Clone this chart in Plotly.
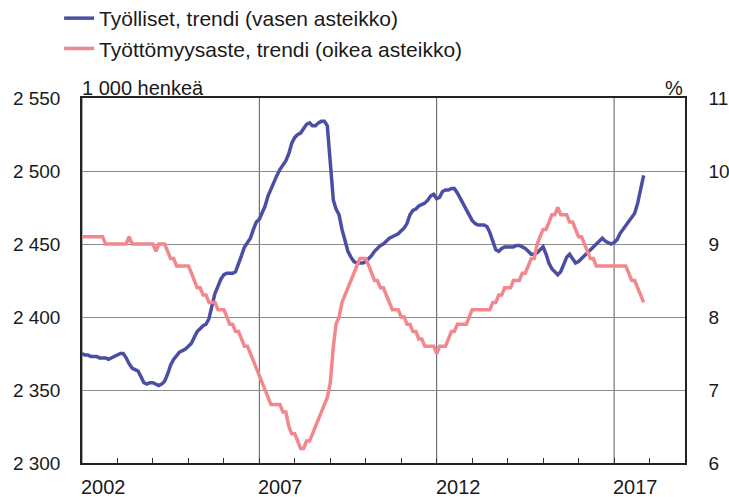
import pandas as pd
import plotly.graph_objects as go

# kuukausittaiset trendit 2002-01 ... 2017-11
kuukaudet = pd.date_range("2002-01-01", "2017-11-01", freq="MS")

# Työlliset, trendi (1 000 henkeä), vasen asteikko
tyolliset = [
    2375, 2374, 2374, 2373, 2373, 2373, 2372, 2372, 2372, 2371, 2372, 2373,  # 2002
    2374, 2375, 2375, 2372, 2368, 2365, 2364, 2363, 2359, 2355, 2354, 2355,  # 2003
    2355, 2354, 2353, 2354, 2356, 2361, 2367, 2371, 2374, 2376, 2377, 2378,  # 2004
    2380, 2382, 2386, 2390, 2392, 2394, 2395, 2399, 2408, 2416, 2421, 2426,  # 2005
    2429, 2430, 2430, 2430, 2431, 2436, 2442, 2448, 2451, 2454, 2460, 2465,  # 2006
    2467, 2472, 2476, 2483, 2488, 2493, 2497, 2501, 2504, 2507, 2512, 2519,  # 2007
    2523, 2525, 2526, 2529, 2532, 2533, 2531, 2531, 2533, 2534, 2534, 2531,  # 2008
    2508, 2480, 2474, 2470, 2460, 2452, 2445, 2441, 2438, 2437, 2437, 2437,  # 2009
    2438, 2440, 2442, 2445, 2447, 2449, 2450, 2452, 2454, 2455, 2456, 2457,  # 2010
    2459, 2461, 2464, 2470, 2473, 2474, 2476, 2477, 2478, 2480, 2483, 2484,  # 2011
    2481, 2482, 2486, 2487, 2487, 2488, 2488, 2485, 2481, 2477, 2473, 2470,  # 2012
    2466, 2464, 2463, 2463, 2463, 2462, 2458, 2452, 2446, 2445, 2447, 2448,  # 2013
    2448, 2448, 2448, 2449, 2449, 2448, 2447, 2445, 2443, 2443, 2444, 2446,  # 2014
    2448, 2443, 2437, 2433, 2431, 2429, 2431, 2436, 2441, 2443, 2440, 2437,  # 2015
    2438, 2440, 2442, 2444, 2446, 2448, 2450, 2452, 2454, 2452, 2451, 2450,  # 2016
    2451, 2453, 2457, 2460, 2463, 2465, 2468, 2471, 2478, 2488, 2497,        # 2017
]

# Työttömyysaste, trendi (%), oikea asteikko
tyottomyysaste = [
    9.1, 9.1, 9.1, 9.1, 9.1, 9.1, 9.1, 9.1, 9.0, 9.0, 9.0, 9.0,  # 2002
    9.0, 9.0, 9.0, 9.0, 9.1, 9.0, 9.0, 9.0, 9.0, 9.0, 9.0, 9.0,  # 2003
    9.0, 8.9, 9.0, 9.0, 9.0, 8.9, 8.8, 8.8, 8.7, 8.7, 8.7, 8.7,  # 2004
    8.7, 8.6, 8.5, 8.4, 8.4, 8.3, 8.3, 8.2, 8.2, 8.2, 8.1, 8.1,  # 2005
    8.1, 8.0, 7.9, 7.9, 7.8, 7.8, 7.7, 7.6, 7.6, 7.5, 7.4, 7.3,  # 2006
    7.2, 7.1, 7.0, 6.9, 6.8, 6.8, 6.8, 6.8, 6.7, 6.7, 6.5, 6.4,  # 2007
    6.4, 6.3, 6.2, 6.2, 6.3, 6.3, 6.4, 6.5, 6.6, 6.7, 6.8, 6.9,  # 2008
    7.1, 7.6, 7.9, 8.0, 8.2, 8.3, 8.4, 8.5, 8.6, 8.7, 8.8, 8.8,  # 2009
    8.8, 8.7, 8.6, 8.5, 8.5, 8.4, 8.4, 8.3, 8.2, 8.1, 8.1, 8.1,  # 2010
    8.0, 8.0, 7.9, 7.9, 7.8, 7.8, 7.7, 7.7, 7.6, 7.6, 7.6, 7.6,  # 2011
    7.5, 7.6, 7.6, 7.6, 7.7, 7.8, 7.8, 7.9, 7.9, 7.9, 7.9, 8.0,  # 2012
    8.1, 8.1, 8.1, 8.1, 8.1, 8.1, 8.1, 8.2, 8.2, 8.3, 8.3, 8.4,  # 2013
    8.4, 8.4, 8.5, 8.5, 8.5, 8.6, 8.6, 8.7, 8.8, 8.8, 9.0, 9.1,  # 2014
    9.2, 9.2, 9.3, 9.4, 9.4, 9.5, 9.4, 9.4, 9.4, 9.3, 9.3, 9.2,  # 2015
    9.1, 9.1, 9.0, 8.9, 8.8, 8.8, 8.7, 8.7, 8.7, 8.7, 8.7, 8.7,  # 2016
    8.7, 8.7, 8.7, 8.7, 8.7, 8.6, 8.5, 8.5, 8.4, 8.3, 8.2,       # 2017
]

vuosi_tekstit = ["2002", "2007", "2012", "2017"]
vuosi_tikit = pd.date_range("2002-01-01", "2019-01-01", freq="YS")

FONT = "Liberation Sans, Arial, sans-serif"
TEXT = "#1a1a1a"
SININEN = "#4a4fa4"
PUNAINEN = "#f2888d"

fig = go.Figure()
fig.add_trace(go.Scatter(
    x=kuukaudet, y=tyolliset,
    mode="lines",
    name="Työlliset, trendi (vasen asteikko)",
    line=dict(color=SININEN, width=3.5),
    legendgroup="a",
))
fig.add_trace(go.Scatter(
    x=kuukaudet, y=tyottomyysaste,
    mode="lines",
    name="Työttömyysaste, trendi (oikea asteikko)",
    line=dict(color=PUNAINEN, width=3.5),
    yaxis="y2",
    legendgroup="b",
))

fig.update_layout(
    width=729, height=497,
    margin=dict(l=82, r=44, t=98, b=34, autoexpand=False),
    paper_bgcolor="white",
    plot_bgcolor="white",
    separators=", ",
    font=dict(family=FONT, size=19, color=TEXT),
    showlegend=True,
    legend=dict(
        x=-0.038, y=1.274, xanchor="left", yanchor="top",
        bgcolor="rgba(0,0,0,0)",
        font=dict(size=21),
        tracegroupgap=0,
        traceorder="grouped",
    ),
    xaxis=dict(
        type="date",
        range=["2002-01-01", "2019-01-01"],
        tickvals=vuosi_tikit,
        ticktext=[""] * len(vuosi_tikit),
        ticks="inside", ticklen=5, tickcolor="#333",
        showgrid=False,
        showline=True, linecolor="#222", linewidth=1.5, mirror=True,
        zeroline=False, automargin=False,
    ),
    yaxis=dict(
        range=[2300, 2550], dtick=50, tickformat=",d",
        showgrid=True, gridcolor="#8c8c8c", gridwidth=1,
        showline=True, linecolor="#222", linewidth=1.5,
        ticks="", ticklabelstandoff=16,
        zeroline=False, automargin=False,
    ),
    yaxis2=dict(
        range=[6, 11], dtick=1,
        overlaying="y", side="right",
        showgrid=False,
        showline=True, linecolor="#222", linewidth=1.5,
        ticks="", ticklabelstandoff=18,
        zeroline=False, automargin=False,
    ),
)

# pystysuorat viivat viiden vuoden välein
for v in vuosi_tekstit:
    fig.add_vline(x=pd.Timestamp(v + "-01-01").timestamp() * 1000,
                  line=dict(color="#5a5a5a", width=1), layer="below")

# vuosiluvut vasemmalle tasattuina vuoden alkuun
for v in vuosi_tekstit:
    fig.add_annotation(
        x=v + "-01-01", xref="x", y=-0.066, yref="paper",
        text=v, showarrow=False, xanchor="left", yanchor="middle",
        font=dict(size=20, color=TEXT), xshift=-3,
    )

fig.add_annotation(x=0, xref="paper", y=1.027, yref="paper",
                   text="1 000 henkeä", showarrow=False,
                   xanchor="left", yanchor="middle", xshift=-2,
                   font=dict(size=20))
fig.add_annotation(x=1, xref="paper", y=1.027, yref="paper",
                   text="%", showarrow=False,
                   xanchor="right", yanchor="middle", xshift=0,
                   font=dict(size=20))

fig.write_html("out.html", config={"displayModeBar": False},
               post_script="document.body.style.margin='0';")
